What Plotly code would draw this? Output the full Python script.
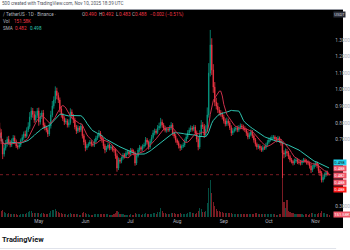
import pandas as pd
import plotly.graph_objects as go

# ---------------- data ----------------
start_date = "2025-04-05"
first_open = 0.771
closes = [
    0.742, 0.690, 0.612, 0.648, 0.675, 0.702, 0.684, 0.667, 0.691, 0.709,
    0.688, 0.661, 0.655, 0.667, 0.694, 0.712, 0.733, 0.721, 0.757, 0.779,
    0.835, 0.872, 0.851, 0.818, 0.846, 0.872, 0.805, 0.838, 0.860, 0.787,
    0.771, 0.757, 0.733, 0.781, 0.848, 0.902, 0.938, 0.992, 0.965, 0.938,
    0.884, 0.848, 0.826, 0.805, 0.812, 0.787, 0.801, 0.866, 0.842, 0.817,
    0.776, 0.751, 0.769, 0.758, 0.781, 0.722, 0.685, 0.649, 0.662, 0.673,
    0.685, 0.671, 0.667, 0.689, 0.709, 0.721, 0.739, 0.716, 0.697, 0.662,
    0.637, 0.651, 0.667, 0.649, 0.655, 0.641, 0.637, 0.602, 0.528, 0.577,
    0.569, 0.588, 0.607, 0.598, 0.619, 0.626, 0.612, 0.637, 0.628, 0.619,
    0.558, 0.601, 0.637, 0.652, 0.641, 0.659, 0.667, 0.697, 0.684, 0.655,
    0.688, 0.712, 0.739, 0.751, 0.742, 0.769, 0.781, 0.805, 0.788, 0.769,
    0.755, 0.762, 0.757, 0.771, 0.787, 0.739, 0.721, 0.697, 0.681, 0.662,
    0.649, 0.658, 0.667, 0.691, 0.715, 0.738, 0.757, 0.769, 0.762, 0.775,
    0.739, 0.702, 0.655, 0.731, 0.787, 0.779, 0.727, 0.761, 0.848, 1.100,
    1.270, 1.119, 1.016, 0.926, 0.901, 0.878, 0.861, 0.852, 0.836, 0.812,
    0.793, 0.812, 0.799, 0.771, 0.739, 0.752, 0.761, 0.769, 0.758, 0.771,
    0.782, 0.775, 0.768, 0.757, 0.738, 0.715, 0.729, 0.745, 0.722, 0.697,
    0.672, 0.655, 0.661, 0.648, 0.637, 0.652, 0.649, 0.668, 0.684, 0.697,
    0.705, 0.712, 0.715, 0.703, 0.697, 0.708, 0.691, 0.679, 0.619, 0.612,
    0.628, 0.619, 0.598, 0.577, 0.568, 0.558, 0.571, 0.577, 0.566, 0.561,
    0.558, 0.569, 0.577, 0.571, 0.563, 0.558, 0.541, 0.516, 0.532, 0.548,
    0.558, 0.541, 0.512, 0.498, 0.456, 0.472, 0.486, 0.502, 0.4905, 0.488,
]
upper_wick = [
    0.030, 0.020, 0.015, 0.018, 0.022, 0.015, 0.020, 0.012, 0.015, 0.018,
    0.015, 0.012, 0.010, 0.014, 0.012, 0.018, 0.015, 0.020, 0.016, 0.025,
    0.030, 0.022, 0.018, 0.020, 0.024, 0.018, 0.020, 0.022, 0.015, 0.018,
    0.015, 0.012, 0.016, 0.020, 0.025, 0.030, 0.022, 0.028, 0.020, 0.018,
    0.015, 0.018, 0.012, 0.014, 0.016, 0.012, 0.020, 0.022, 0.015, 0.012,
    0.014, 0.012, 0.016, 0.012, 0.018, 0.010, 0.012, 0.014, 0.012, 0.010,
    0.012, 0.010, 0.012, 0.015, 0.014, 0.016, 0.018, 0.012, 0.010, 0.012,
    0.012, 0.010, 0.014, 0.010, 0.012, 0.010, 0.012, 0.010, 0.014, 0.015,
    0.012, 0.010, 0.012, 0.010, 0.014, 0.012, 0.010, 0.012, 0.010, 0.012,
    0.010, 0.014, 0.012, 0.015, 0.010, 0.012, 0.014, 0.018, 0.012, 0.010,
    0.014, 0.016, 0.018, 0.015, 0.012, 0.018, 0.020, 0.025, 0.016, 0.012,
    0.014, 0.012, 0.010, 0.015, 0.018, 0.012, 0.010, 0.012, 0.010, 0.012,
    0.010, 0.012, 0.014, 0.015, 0.016, 0.018, 0.015, 0.016, 0.012, 0.014,
    0.012, 0.015, 0.018, 0.025, 0.030, 0.018, 0.015, 0.025, 0.045, 0.060,
    0.090, 0.040, 0.035, 0.030, 0.025, 0.020, 0.018, 0.016, 0.015, 0.014,
    0.015, 0.020, 0.014, 0.012, 0.015, 0.016, 0.014, 0.012, 0.014, 0.016,
    0.015, 0.012, 0.014, 0.012, 0.010, 0.012, 0.014, 0.016, 0.012, 0.010,
    0.012, 0.010, 0.012, 0.010, 0.012, 0.014, 0.010, 0.012, 0.014, 0.015,
    0.012, 0.014, 0.012, 0.010, 0.012, 0.014, 0.010, 0.012, 0.008, 0.016,
    0.018, 0.015, 0.012, 0.010, 0.012, 0.010, 0.014, 0.012, 0.010, 0.010,
    0.012, 0.010, 0.012, 0.010, 0.010, 0.012, 0.010, 0.012, 0.014, 0.012,
    0.012, 0.010, 0.012, 0.010, 0.012, 0.018, 0.015, 0.012, 0.010, 0.002,
]
lower_wick = [
    0.020, 0.018, 0.030, 0.015, 0.014, 0.018, 0.016, 0.014, 0.012, 0.015,
    0.014, 0.012, 0.015, 0.010, 0.012, 0.010, 0.014, 0.012, 0.010, 0.012,
    0.015, 0.016, 0.020, 0.018, 0.014, 0.016, 0.022, 0.015, 0.014, 0.020,
    0.016, 0.014, 0.018, 0.012, 0.015, 0.014, 0.016, 0.020, 0.022, 0.018,
    0.020, 0.016, 0.014, 0.018, 0.012, 0.015, 0.014, 0.012, 0.016, 0.018,
    0.015, 0.018, 0.012, 0.014, 0.012, 0.016, 0.018, 0.020, 0.012, 0.010,
    0.012, 0.014, 0.010, 0.012, 0.010, 0.012, 0.010, 0.014, 0.016, 0.018,
    0.020, 0.012, 0.010, 0.014, 0.012, 0.014, 0.016, 0.018, 0.022, 0.012,
    0.014, 0.012, 0.010, 0.012, 0.010, 0.012, 0.014, 0.010, 0.012, 0.014,
    0.016, 0.012, 0.010, 0.012, 0.014, 0.010, 0.012, 0.010, 0.014, 0.016,
    0.012, 0.010, 0.012, 0.014, 0.012, 0.010, 0.012, 0.014, 0.016, 0.014,
    0.012, 0.014, 0.012, 0.010, 0.012, 0.016, 0.014, 0.016, 0.014, 0.016,
    0.018, 0.012, 0.010, 0.012, 0.010, 0.012, 0.010, 0.012, 0.014, 0.012,
    0.014, 0.018, 0.020, 0.012, 0.014, 0.016, 0.018, 0.012, 0.014, 0.016,
    0.020, 0.030, 0.035, 0.025, 0.020, 0.018, 0.016, 0.014, 0.015, 0.016,
    0.014, 0.012, 0.016, 0.014, 0.018, 0.012, 0.010, 0.012, 0.014, 0.012,
    0.010, 0.012, 0.014, 0.012, 0.016, 0.014, 0.012, 0.010, 0.014, 0.016,
    0.014, 0.016, 0.012, 0.014, 0.012, 0.010, 0.012, 0.010, 0.012, 0.010,
    0.010, 0.012, 0.010, 0.012, 0.014, 0.010, 0.012, 0.016, 0.151, 0.025,
    0.018, 0.020, 0.016, 0.014, 0.012, 0.014, 0.010, 0.012, 0.014, 0.012,
    0.014, 0.012, 0.010, 0.012, 0.014, 0.012, 0.016, 0.018, 0.012, 0.010,
    0.012, 0.014, 0.016, 0.018, 0.015, 0.014, 0.012, 0.010, 0.008, 0.005,
]
volumes_k = [
    520, 610, 740, 480, 390, 350, 420, 310, 280, 330,
    260, 300, 240, 220, 280, 310, 350, 290, 420, 460,
    650, 580, 420, 390, 380, 450, 400, 340, 380, 360,
    300, 280, 310, 420, 620, 700, 740, 820, 560, 480,
    420, 380, 330, 300, 260, 240, 280, 420, 310, 290,
    320, 350, 260, 240, 250, 380, 460, 420, 300, 260,
    240, 220, 210, 260, 300, 320, 350, 280, 260, 310,
    340, 290, 260, 240, 230, 250, 280, 360, 640, 480,
    320, 280, 260, 240, 250, 230, 220, 260, 240, 230,
    380, 300, 280, 260, 250, 270, 300, 360, 320, 300,
    310, 330, 420, 380, 350, 460, 520, 880, 560, 420,
    380, 350, 320, 340, 380, 420, 360, 340, 330, 300,
    360, 320, 290, 310, 350, 420, 480, 460, 380, 360,
    340, 420, 620, 880, 760, 520, 460, 620, 1400, 2900,
    3700, 2400, 1500, 1100, 820, 640, 560, 500, 460, 420,
    420, 380, 360, 400, 420, 340, 320, 300, 290, 280,
    300, 290, 270, 260, 280, 320, 300, 280, 310, 340,
    380, 360, 320, 300, 340, 320, 290, 310, 330, 300,
    290, 280, 260, 270, 250, 240, 260, 330, 6700, 1500,
    900, 1700, 620, 480, 420, 380, 340, 320, 300, 290,
    280, 260, 250, 270, 260, 250, 330, 420, 380, 300,
    290, 330, 380, 420, 560, 440, 360, 310, 260, 151.58,
]
month_ticks = ["2025-05-01", "2025-06-01", "2025-07-01", "2025-08-01",
               "2025-09-01", "2025-10-01", "2025-11-01"]
month_labels = ["May", "Jun", "Jul", "Aug", "Sep", "Oct", "Nov"]
# labels at 0.4-0.6 are hidden behind the price-label boxes, as in the picture
price_ticks = [0.3, 0.7, 0.8, 0.9, 1.0, 1.1, 1.2, 1.3]
fast_len, slow_len = 9, 21

# ---------------- derived series ----------------
dates = pd.date_range(start_date, periods=len(closes), freq="D")
opens = [first_open] + closes[:-1]
highs = [max(o, c) + u for o, c, u in zip(opens, closes, upper_wick)]
lows = [min(o, c) - l for o, c, l in zip(opens, closes, lower_wick)]
cs = pd.Series(closes)
ma_fast = cs.rolling(fast_len, min_periods=1).mean()
ma_slow = cs.rolling(slow_len, min_periods=1).mean()

UP, DN = "#089981", "#f23645"
vol_colors = ["rgba(8,153,129,0.5)" if c >= o else "rgba(242,54,69,0.5)"
              for o, c in zip(opens, closes)]

# ---------------- layout helpers (pixels -> paper) ----------------
W, H = 350, 250
def fx(px):
    return px / W
def fy(py):
    return 1 - py / H

PLOT_R = 338
TOP, BOT = 12, 217
NOV1_X, PX_PER_DAY = 322, 1.535
nov1 = pd.Timestamp("2025-11-01")
x_start = nov1 - pd.Timedelta(days=NOV1_X / PX_PER_DAY)
x_end = nov1 + pd.Timedelta(days=(PLOT_R - NOV1_X) / PX_PER_DAY)
P_REF, Y_REF, PX_PER_UNIT = 0.5, 172.7, 166.0
y_lo = P_REF - (BOT - Y_REF) / PX_PER_UNIT
y_hi = P_REF + (Y_REF - TOP) / PX_PER_UNIT

FONT = "Roboto"
fig = go.Figure()

fig.add_trace(go.Bar(
    x=dates, y=volumes_k, yaxis="y2", marker_color=vol_colors,
    marker_line_width=0, width=86400000 * 0.7, hoverinfo="skip",
    showlegend=False))

fig.add_trace(go.Candlestick(
    x=dates, open=opens, high=highs, low=lows, close=closes,
    increasing=dict(line=dict(color=UP, width=0.8), fillcolor=UP),
    decreasing=dict(line=dict(color=DN, width=0.8), fillcolor=DN),
    whiskerwidth=0, hoverinfo="skip", showlegend=False))

fig.add_trace(go.Scatter(x=dates, y=ma_slow, mode="lines",
                         line=dict(color="#2ec4b0", width=1),
                         hoverinfo="skip", showlegend=False))
fig.add_trace(go.Scatter(x=dates, y=ma_fast, mode="lines",
                         line=dict(color="#c9304a", width=1),
                         hoverinfo="skip", showlegend=False))

shapes = [
    dict(type="rect", xref="paper", yref="paper", x0=0, x1=1,
         y0=fy(228), y1=fy(10), fillcolor="#000000", line_width=0, layer="below"),
    dict(type="line", xref="paper", yref="paper", x0=0, x1=1,
         y0=fy(9.5), y1=fy(9.5), line=dict(color="#9598a1", width=1)),
    dict(type="line", xref="paper", yref="y", x0=0, x1=fx(PLOT_R),
         y0=closes[-1], y1=closes[-1],
         line=dict(color="rgba(242,54,69,0.5)", width=1, dash="dot")),
    dict(type="line", xref="paper", yref="paper", x0=0, x1=fx(343),
         y0=fy(248.5), y1=fy(248.5), line=dict(color="#e0e3eb", width=1)),
]

def ann(text, px, py, size=4.6, color="#b2b5be", bg=None, anchor="left", **kw):
    d = dict(text=text, x=fx(px), y=fy(py), xref="paper", yref="paper",
             showarrow=False, xanchor=anchor, yanchor="middle",
             font=dict(family=FONT, size=size, color=color))
    if bg:
        d.update(bgcolor=bg, borderpad=0.2)
    d.update(kw)
    return d

RED = "#f23645"
annotations = [
    ann("500 created with TradingView.com, Nov 10, 2025 18:39 UTC", 0, 3.5,
        size=4.6, color="#50535e"),
    ann("/ TetherUS · 1D · Binance · ", 1, 14.5),
    ann("O", 81.5, 14.5), ann("0.490", 85, 14.5, color=RED),
    ann("H", 98.5, 14.5), ann("0.492", 102, 14.5, color=RED),
    ann("L", 116, 14.5), ann("0.483", 119, 14.5, color=RED),
    ann("C", 133, 14.5), ann("0.488", 136, 14.5, color=RED),
    ann("−0.002 (−0.51%)", 151, 14.5, color=RED),
    ann("Vol", 1, 22), ann("151.58K", 12.5, 22, color=RED),
    ann("SMA", 1, 29), ann("0.482", 13, 29, color=RED),
    ann("0.498", 29, 29, color="#2ec4b0"),
    ann("USDT", 340, 14, size=4.2, color="#d1d4dc", bg="#2a2e39"),
    ann("0.498", 340, 162, size=4.2, color="#131722", bg="#22d3ee"),
    ann("0.488", 340, 168.8, size=4.2, color="#ffffff", bg="#ef5366"),
    ann("0.482", 340, 175.6, size=4.2, color="#ffffff", bg="#ef5366"),
    ann("0.488", 340, 182.4, size=4.2, color="#ffffff", bg="#ef5366"),
    ann("0.488", 340, 189.2, size=4.2, color="#ffffff", bg="#ff1a1a"),
    ann("151.58K", 340, 214.5, size=4.2, color="#ffffff", bg="#f05a6b"),
    ann("<b>TradingView</b>", -0.5, 239.5, size=7.4, color="#131722"),
]

fig.update_layout(
    width=W, height=H, margin=dict(l=0, r=0, t=0, b=0),
    paper_bgcolor="#ffffff", plot_bgcolor="#000000",
    font=dict(family=FONT, size=5, color="#b2b5be"),
    showlegend=False, bargap=0, boxgap=0.45, hovermode=False,
    xaxis=dict(domain=[0, fx(PLOT_R)], type="date",
               range=[x_start, x_end], rangeslider=dict(visible=False),
               showgrid=False, zeroline=False, showline=False,
               tickvals=month_ticks, ticktext=month_labels,
               tickfont=dict(size=4.8, color="#b2b5be"), ticks=""),
    yaxis=dict(domain=[fy(BOT), fy(TOP)], range=[y_lo, y_hi], side="right",
               showgrid=False, zeroline=False, showline=False,
               tickvals=price_ticks, tickformat=".4f", ticks="",
               ticklabelstandoff=3,
               tickfont=dict(size=4.8, color="#b2b5be")),
    yaxis2=dict(domain=[fy(BOT), fy(TOP)], overlaying="y",
                range=[0, max(volumes_k) * (BOT - TOP) / 67.0],
                visible=False, showgrid=False),
    shapes=shapes, annotations=annotations,
)

fig.write_html("out.html")
